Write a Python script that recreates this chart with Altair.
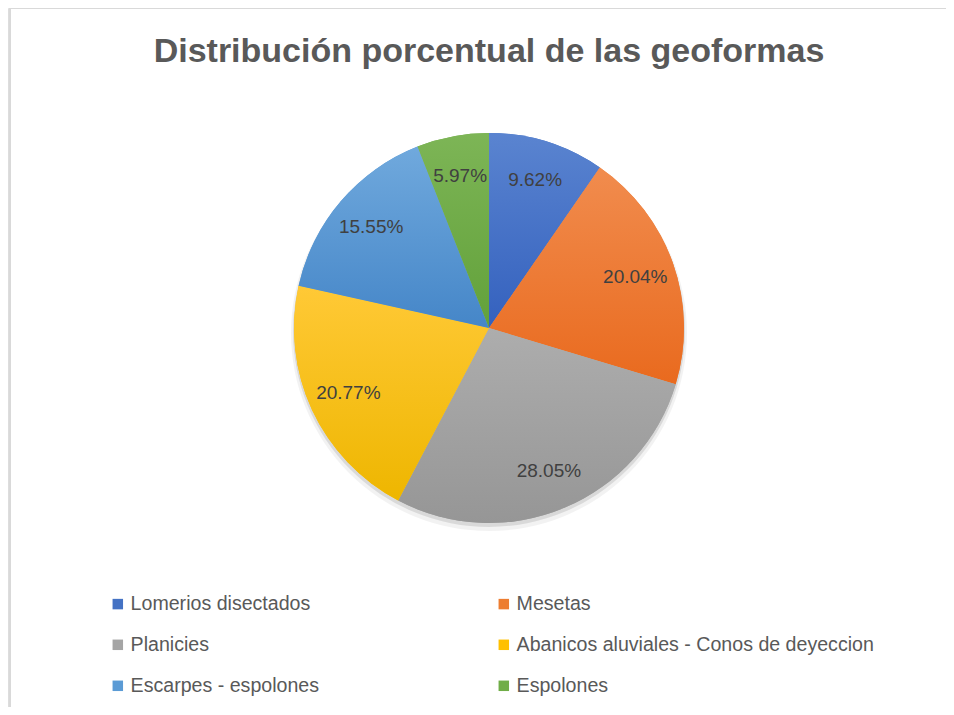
import math
import altair as alt
import pandas as pd

# ---- data ----
categories = [
    "Lomerios disectados",
    "Mesetas",
    "Planicies",
    "Abanicos aluviales - Conos de deyeccion",
    "Escarpes - espolones",
    "Espolones",
]
values = [9.62, 20.04, 28.05, 20.77, 15.55, 5.97]
colors = ["#4472C4", "#ED7D31", "#A5A5A5", "#FFC000", "#5B9BD5", "#70AD47"]
top_colors = ["#5A84D0", "#F18C4E", "#ADADAD", "#FFC936", "#70A9DD", "#7DB556"]
bottom_colors = ["#3461BE", "#E96A1E", "#969696", "#EEB600", "#4586C8", "#62A13A"]

title_text = ["Distribución porcentual de las geoformas"]

FONT = "Liberation Sans"
CX, CY, R = 481, 320, 195
W, H = 938, 699

df = pd.DataFrame({"idx": list(range(len(categories))), "cat": categories, "value": values})

base = alt.Chart(df).transform_window(
    cum="sum(value)", sort=[alt.SortField("idx")], frame=[None, 0]
).transform_calculate(
    start="datum.cum - datum.value",
    mid="datum.cum - datum.value / 2",
    label="format(datum.value, '.2f') + '%'",
)

theta_scale = alt.Scale(domain=[0, 100], range=[0, 2 * math.pi])

one = pd.DataFrame({"v": [1]})

# soft shadow under the pie
shadow1 = alt.Chart(one).mark_arc(
    radius=R + 3, theta=0, theta2=2 * math.pi, color="#000000", opacity=0.05
).encode(x=alt.value(CX), y=alt.value(CY + 5))
shadow2 = alt.Chart(one).mark_arc(
    radius=R + 1, theta=0, theta2=2 * math.pi, color="#000000", opacity=0.10
).encode(x=alt.value(CX), y=alt.value(CY + 3))

solid = base.mark_arc(radius=R).encode(
    theta=alt.Theta("start:Q", scale=theta_scale),
    theta2="cum:Q",
    color=alt.Color(
        "cat:N",
        scale=alt.Scale(domain=categories, range=colors),
        sort=categories,
        legend=alt.Legend(
            title=None,
            orient="none",
            direction="horizontal",
            legendX=100,
            legendY=586,
            columns=2,
            columnPadding=174,
            rowPadding=20,
            padding=0,
            symbolType="square",
            symbolSize=110,
            symbolStrokeWidth=0,
            labelOffset=3,
            labelFont=FONT,
            labelFontSize=19.6,
            labelColor="#595959",
            labelLimit=500,
        ),
    ),
    x=alt.value(CX),
    y=alt.value(CY),
)

grads = []
for i in range(len(categories)):
    grad = {
        "gradient": "linear",
        "x1": 0, "y1": 0, "x2": 0, "y2": 1,
        "stops": [
            {"offset": 0, "color": top_colors[i]},
            {"offset": 1, "color": bottom_colors[i]},
        ],
    }
    grads.append(
        base.transform_filter(f"datum.idx == {i}").mark_arc(radius=R, fill=grad).encode(
            theta=alt.Theta("start:Q", scale=theta_scale),
            theta2="cum:Q",
            x=alt.value(CX),
            y=alt.value(CY),
        )
    )

labels = base.mark_text(
    radius=155, font=FONT, fontSize=19, color="#404040"
).encode(
    theta=alt.Theta("mid:Q", scale=theta_scale),
    text="label:N",
    x=alt.value(CX),
    y=alt.value(CY),
)

title = alt.Chart(pd.DataFrame({"t": title_text})).mark_text(
    font=FONT, fontSize=34, fontWeight="bold", color="#595959",
    align="center", baseline="alphabetic",
).encode(text="t:N", x=alt.value(481), y=alt.value(54))

left_line = alt.Chart(one).mark_rule(color="#D9D9D9", strokeWidth=2).encode(
    x=alt.value(2), y=alt.value(0), y2=alt.value(H)
)
top_line = alt.Chart(one).mark_rule(color="#D9D9D9", strokeWidth=2).encode(
    x=alt.value(1), x2=alt.value(W), y=alt.value(0)
)

chart = alt.layer(
    left_line, top_line, shadow1, shadow2, solid, *grads, labels, title
).properties(
    width=W,
    height=H,
    autosize="none",
    padding=0,
).configure_view(stroke=None).configure(background="white")

chart.save("out.html", embed_options={"renderer": "svg", "actions": False})
